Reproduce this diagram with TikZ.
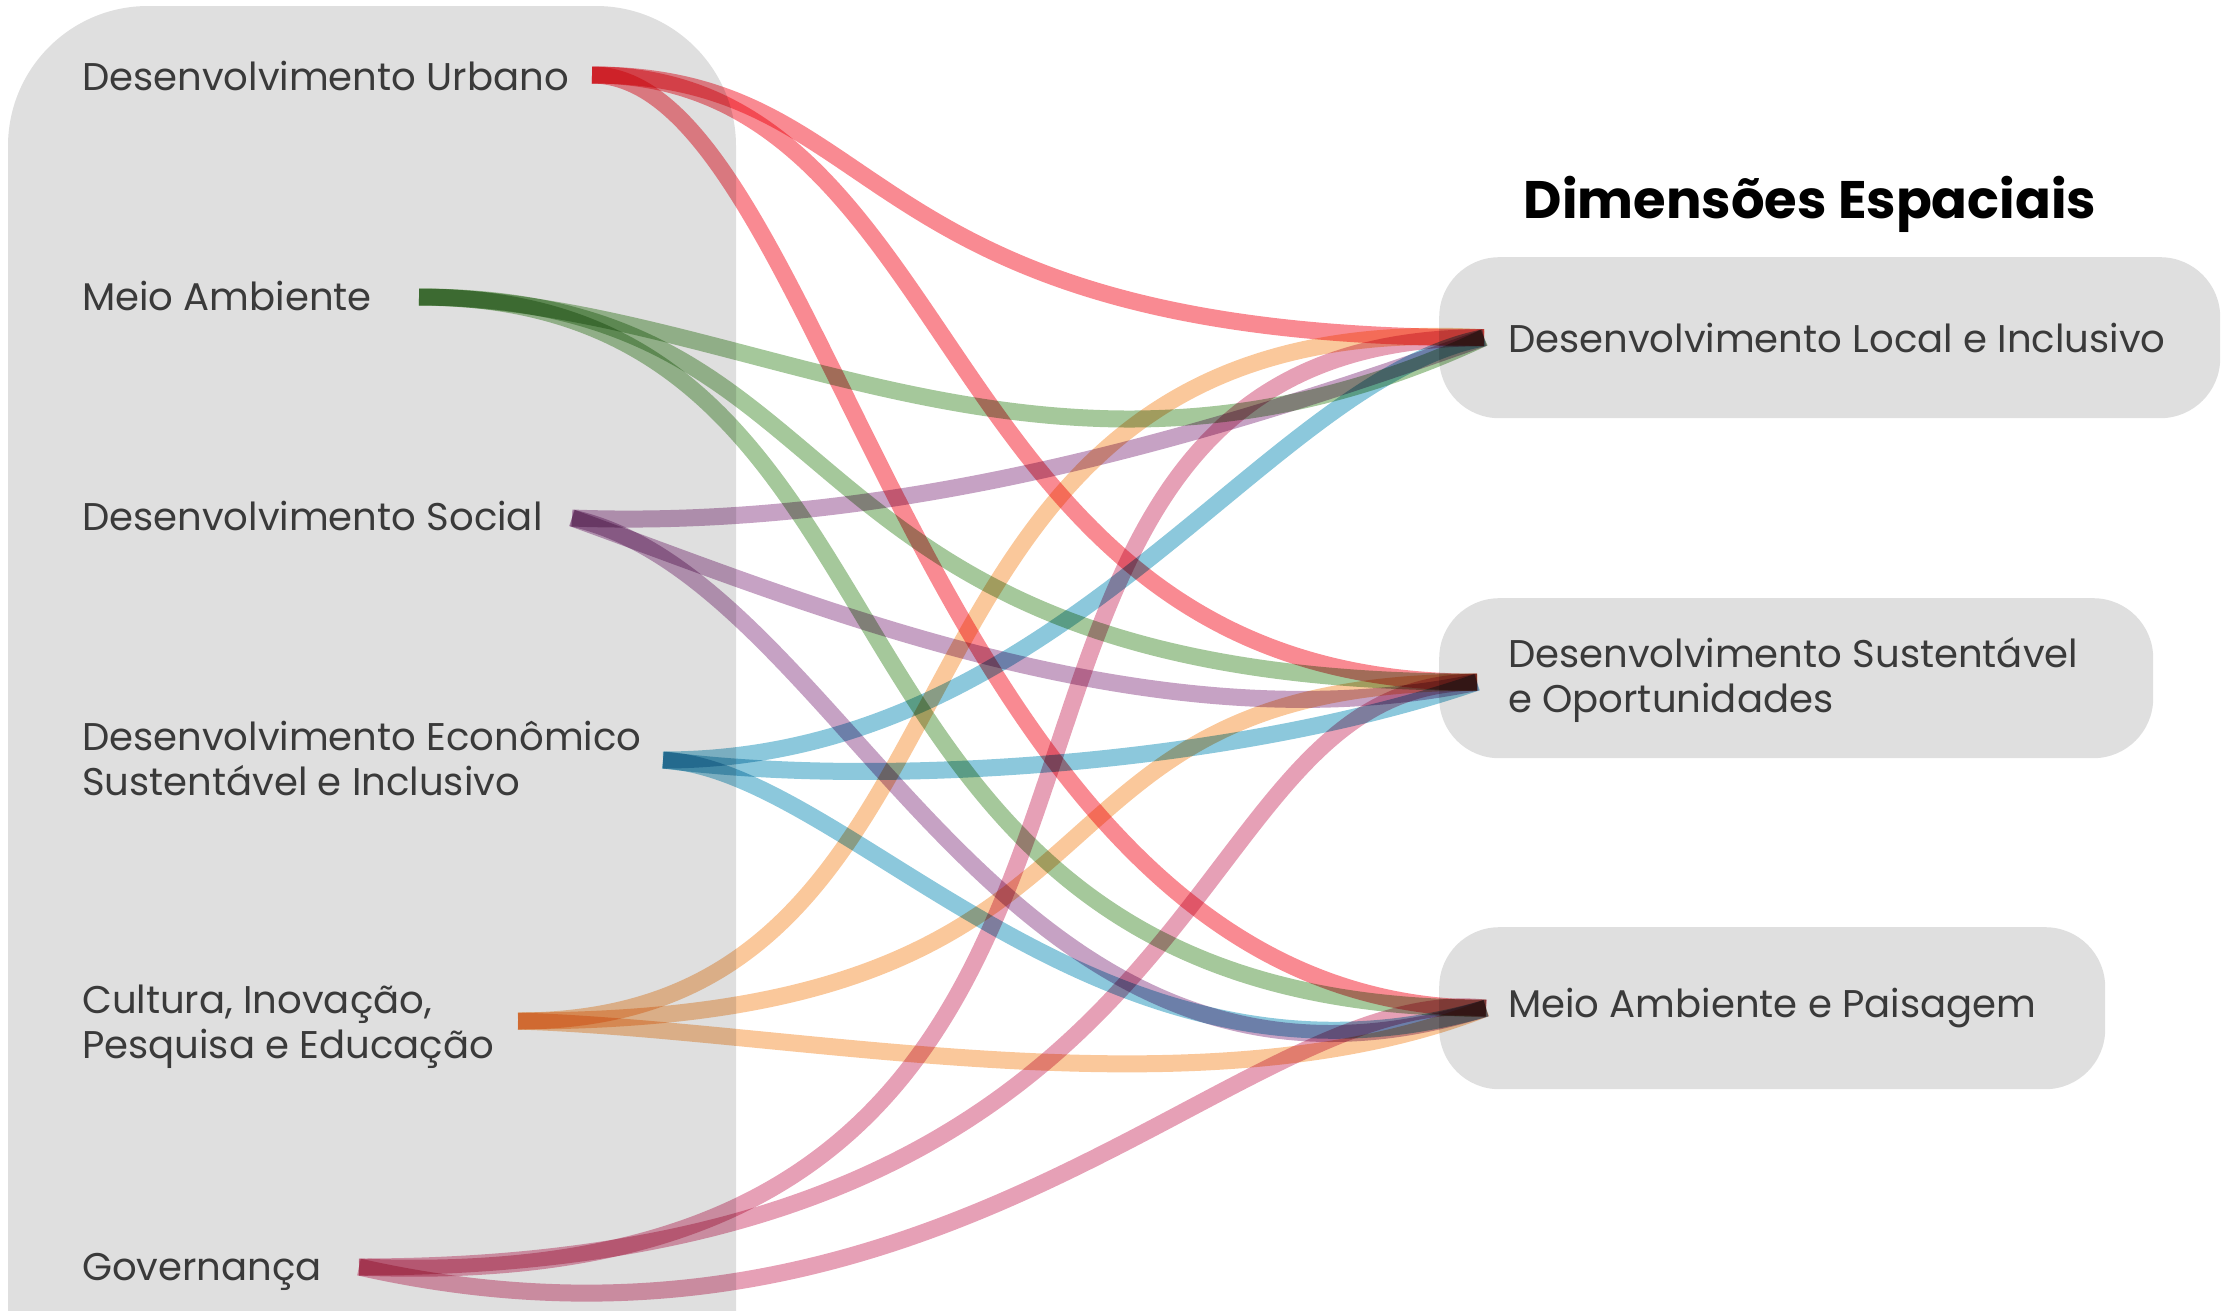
\documentclass[tikz,border=0pt]{standalone}
\usepackage{fontspec}
\setmainfont{Poppins}
\usetikzlibrary{positioning}

\definecolor{panelgray}{RGB}{223,223,223}
\definecolor{txtgray}{RGB}{58,58,58}
\definecolor{urbcol}{RGB}{249,138,146}
\definecolor{ambcol}{RGB}{165,200,155}
\definecolor{soccol}{RGB}{198,162,196}
\definecolor{ecocol}{RGB}{140,200,220}
\definecolor{culcol}{RGB}{250,200,155}
\definecolor{govcol}{RGB}{230,160,182}

\begin{document}
\begin{tikzpicture}[x=1pt, y=-1pt,
        lbl/.style={inner sep=0pt, anchor=west, align=left, text=txtgray,
            font=\fontsize{38.6}{45}\selectfont},
        dimbox/.style={fill=panelgray, rounded corners=60pt, anchor=north west,
            inner sep=0pt},
        link/.style={line width=17pt, blend mode=multiply}]
        \useasboundingbox (0,0) rectangle (2227,1310);

        % Panel
        \fill[panelgray, rounded corners=140pt] (8,6) rectangle (736,1500);

        % Nodes
        \node[lbl] (urb) at (82,76) {Desenvolvimento Urbano};
        \node[lbl] (amb) at (82,296) {Meio Ambiente};
        \node[lbl] (soc) at (82,516) {Desenvolvimento Social};
        \node[lbl] (eco) at (82,758) {Desenvolvimento Econômico\\Sustentável e Inclusivo};
        \node[lbl] (cul) at (82,1027) {Cultura, Inovação,\\Pesquisa e Educação};
        \node[lbl] (gov) at (82,1272) {Governança};

        \node[font=\fontsize{52.8}{60}\selectfont\bfseries] (title) at (1810,204) {Dimensões Espaciais};
        \node[dimbox, minimum width=781pt, minimum height=161pt] (dimA) at (1439,257) {};
        \node[dimbox, minimum width=714pt, minimum height=160pt] (dimB) at (1439,598) {};
        \node[dimbox, minimum width=666pt, minimum height=162pt] (dimC) at (1439,927) {};
        \node[lbl, right=69pt of dimA.west] (dimAtxt) {Desenvolvimento Local e Inclusivo};
        \node[lbl, right=69pt of dimB.west, yshift=-2pt] (dimBtxt) {Desenvolvimento Sustentável\\e Oportunidades};
        \node[lbl, right=69pt of dimC.west] (dimCtxt) {Meio Ambiente e Paisagem};

        \coordinate (urbR) at (592,75);
        \coordinate (ambR) at (419,297);
        \coordinate (socR) at (572,518);
        \coordinate (ecoR) at (663,760);
        \coordinate (culR) at (518,1021);
        \coordinate (govR) at (359,1267);
        \coordinate (inA) at ([xshift=45pt]dimA.west);
        \coordinate (inB) at ([xshift=38pt,yshift=-4pt]dimB.west);
        \coordinate (inC) at ([xshift=47pt]dimC.west);

        % Edges
        \draw[link, urbcol] (urbR) .. controls +(304,0) and +(-643,0) .. (inA);
        \draw[link, urbcol] (urbR) .. controls +(383,0) and +(-551,0) .. (inB);
        \draw[link, urbcol] (urbR) .. controls +(240,0) and +(-560,0) .. (inC);
        \draw[link, ambcol] (ambR) .. controls +(331,3) and +(-434,203) .. (inA);
        \draw[link, ambcol] (ambR) .. controls +(457,0) and +(-718,0) .. (inB);
        \draw[link, ambcol] (ambR) .. controls +(543,0) and +(-722,0) .. (inC);
        \draw[link, soccol] (socR) .. controls +(320,12) and +(-280,100) .. (inA);
        \draw[link, soccol] (socR) .. controls +(228,82) and +(-327,68) .. (inB);
        \draw[link, soccol] (socR) .. controls +(278,62) and +(-486,152) .. (inC);
        \draw[link, ecocol] (ecoR) .. controls +(400,0) and +(-220,43) .. (inA);
        \draw[link, ecocol] (ecoR) .. controls +(237,30) and +(-227,78) .. (inB);
        \draw[link, ecocol] (ecoR) .. controls +(187,10) and +(-386,112) .. (inC);
        \draw[link, culcol] (culR) .. controls +(515,0) and +(-653,-37) .. (inA);
        \draw[link, culcol] (culR) .. controls +(656,0) and +(-491,0) .. (inB);
        \draw[link, culcol] (culR) .. controls +(282,9) and +(-286,112) .. (inC);
        \draw[link, govcol] (govR) .. controls +(943,40) and +(-643,0) .. (inA);
        \draw[link, govcol] (govR) .. controls +(888,0) and +(-312,0) .. (inB);
        \draw[link, govcol] (govR) .. controls +(591,133) and +(-236,-28) .. (inC);
    \end{tikzpicture}
\end{document}
